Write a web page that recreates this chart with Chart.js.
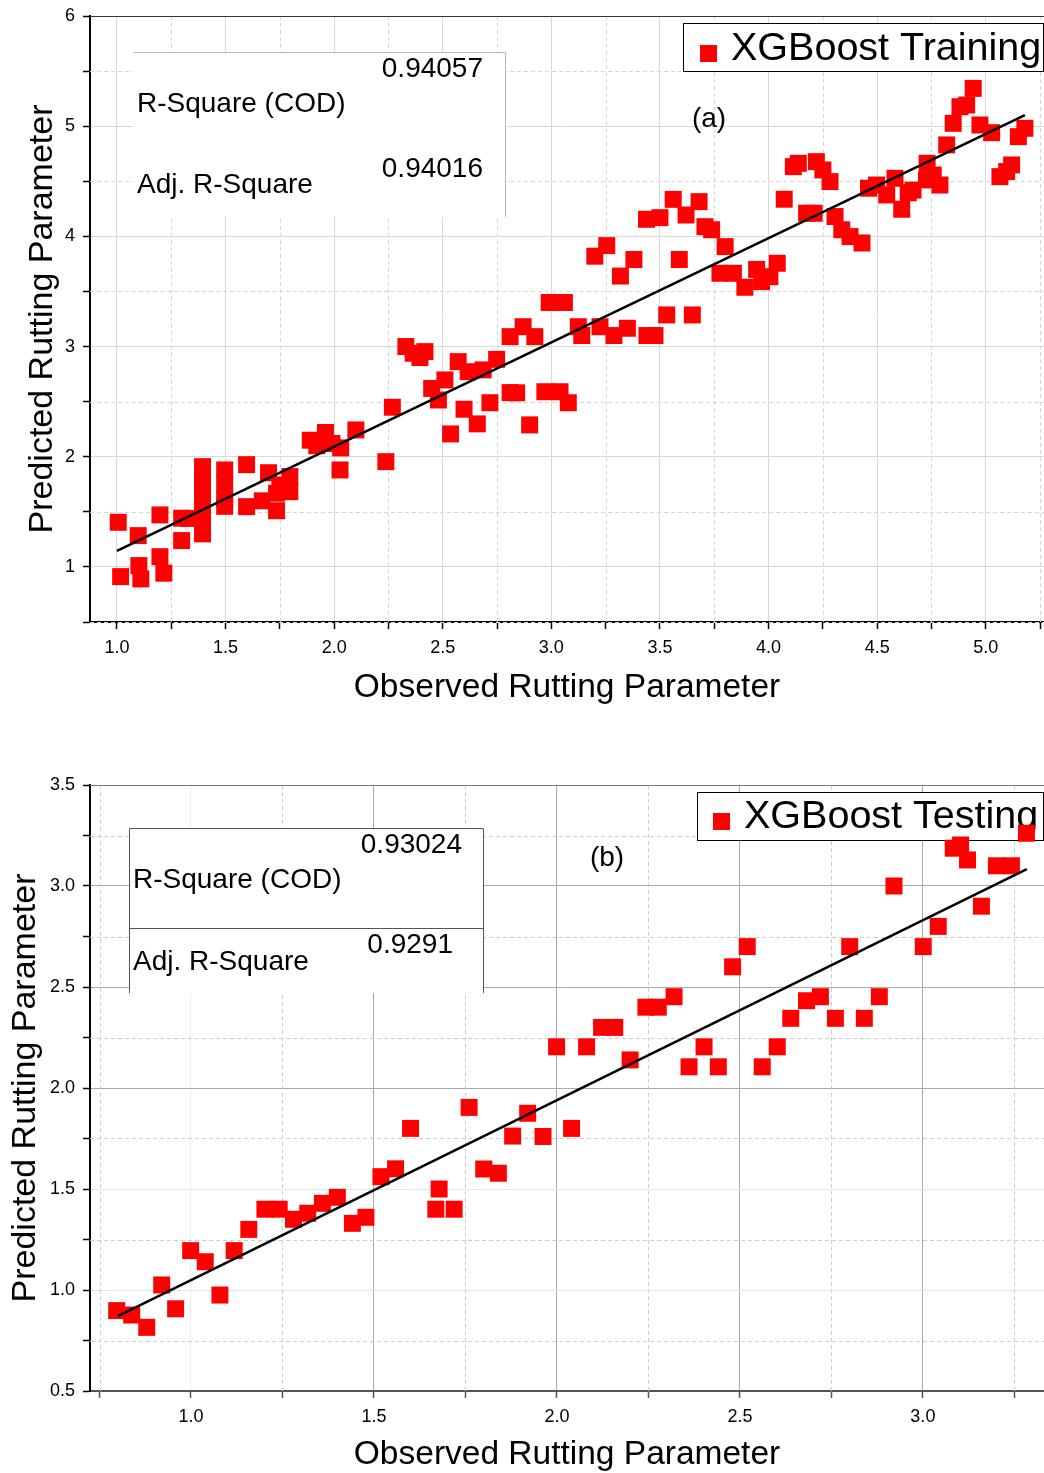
<!DOCTYPE html>
<html>
<head>
<meta charset="utf-8">
<title>XGBoost rutting parameter</title>
<script src="https://cdn.jsdelivr.net/npm/chart.js@4.4.0/dist/chart.umd.min.js"></script>
<style>
  html, body { margin: 0; padding: 0; background: #fff; overflow: hidden; }
  .panel { position: absolute; left: 0; width: 1044px; }
  #trainPanel { top: 0; height: 720px; }
  #testPanel { top: 730px; height: 760px; }
</style>
</head>
<body>
<div class="panel" id="trainPanel"><canvas id="trainChart"></canvas></div>
<div class="panel" id="testPanel"><canvas id="testChart"></canvas></div>
<script>
// ===================================
// DATA
// ===================================
const trainObserved = [
  1.006, 1.098, 1.017, 1.101, 1.11, 1.198, 1.198, 1.216, 1.298, 1.298, 1.33,
  1.394, 1.394, 1.394, 1.394, 1.394, 1.394, 1.394,
  1.496, 1.496, 1.496, 1.496,
  1.597, 1.597, 1.669, 1.698, 1.735, 1.735, 1.796, 1.796, 1.75,
  1.89, 1.92, 1.96, 1.99, 2.03, 2.027, 2.10, 2.238, 2.268,
  2.33, 2.364, 2.418, 2.395, 2.449, 2.48, 2.51, 2.536, 2.571, 2.598,
  2.617, 2.659, 2.686, 2.717, 2.748, 2.81, 2.84, 2.87, 2.81, 2.924,
  2.90, 2.97, 3.04, 3.078, 2.99, 3.06, 3.124, 3.14, 3.224, 3.288,
  3.35, 3.44, 3.477, 3.531, 3.649, 3.20, 3.255, 3.318, 3.38, 3.589,
  3.438, 3.50, 3.561, 3.62, 3.68, 3.707, 3.738, 3.80, 3.776, 3.838,
  3.891, 3.945, 3.968, 4.006, 4.04, 4.072, 4.114, 4.137, 4.175, 4.21,
  4.22, 4.25, 4.283, 4.306, 4.337, 4.375, 4.43, 4.46, 4.497, 4.544,
  4.582, 4.613, 4.643, 4.665, 4.73, 4.727, 4.758, 4.789, 4.82, 4.85,
  4.881, 4.912, 4.942, 4.973, 5.027, 5.065, 5.096, 5.119, 5.15, 5.18
];
const trainPredicted = [
  1.405, 1.284, 0.912, 1.012, 0.891, 1.472, 1.093, 0.943, 1.239, 1.442, 1.44,
  1.91, 1.80, 1.70, 1.60, 1.50, 1.40, 1.30,
  1.88, 1.75, 1.62, 1.55,
  1.928, 1.547, 1.60, 1.855, 1.51, 1.669, 1.82, 1.683, 1.744,
  2.15, 2.10, 2.22, 2.12, 2.08, 1.88, 2.243, 1.955, 2.449,
  3.0, 2.939, 2.954, 2.90, 2.62, 2.515, 2.697, 2.207, 2.863, 2.431,
  2.772, 2.298, 2.788, 2.49, 2.884, 2.582, 2.58, 3.18, 3.09, 3.09,
  2.289, 2.59, 2.59, 2.49, 3.40, 3.40, 3.18, 3.10, 3.18, 3.10,
  3.166, 3.10, 3.10, 3.287, 3.287, 3.82, 3.916, 3.64, 3.79, 3.79,
  4.155, 4.17, 4.336, 4.194, 4.315, 4.088, 4.06, 3.907, 3.665, 3.665,
  3.538, 3.70, 3.589, 3.634, 3.756, 4.337, 4.633, 4.663, 4.21, 4.21,
  4.678, 4.603, 4.497, 4.18, 4.06, 3.998, 3.94, 4.437, 4.466, 4.376,
  4.527, 4.246, 4.396, 4.42, 4.663, 4.512, 4.557, 4.466, 4.83, 5.026,
  5.177, 5.192, 5.343, 5.011, 4.941, 4.542, 4.588, 4.648, 4.905, 4.981
];
const trainFitX = [1.0, 5.18];
const trainFitY = [1.145, 5.10];
const trainStats = ["0.94057", "0.94016"];

const testObserved = [
  0.797, 0.838, 0.879, 0.92, 0.958, 0.999, 1.039, 1.079, 1.118, 1.158,
  1.202, 1.241, 1.28, 1.319, 1.359, 1.40, 1.441, 1.478, 1.519, 1.559,
  1.60, 1.678, 1.669, 1.719, 1.76, 1.80, 1.84, 1.879, 1.92, 1.962,
  2.04, 1.999, 2.081, 2.122, 2.158, 2.20, 2.243, 2.277, 2.32, 2.361,
  2.402, 2.441, 2.48, 2.52, 2.561, 2.602, 2.639, 2.682, 2.72, 2.761,
  2.80, 2.84, 2.881, 2.921, 3.001, 3.042, 3.083, 3.103, 3.122, 3.16,
  3.201, 3.242, 3.283
];
const testPredicted = [
  0.898, 0.876, 0.815, 1.025, 0.907, 1.195, 1.14, 0.975, 1.195, 1.30,
  1.40, 1.40, 1.35, 1.38, 1.429, 1.459, 1.33, 1.36, 1.561, 1.60,
  1.80, 1.50, 1.40, 1.40, 1.904, 1.599, 1.578, 1.762, 1.875, 1.76,
  1.80, 2.204, 2.204, 2.30, 2.30, 2.139, 2.40, 2.40, 2.452, 2.105,
  2.204, 2.105, 2.60, 2.70, 2.105, 2.204, 2.345, 2.432, 2.452, 2.345,
  2.70, 2.345, 2.452, 3.0, 2.70, 2.80, 3.187, 3.203, 3.129, 2.90,
  3.10, 3.10, 3.261
];
const testFitX = [0.80, 3.284];
const testFitY = [0.871, 3.084];
const testStats = ["0.93024", "0.9291"];

const statLabels = ["R-Square (COD)", "Adj. R-Square"];
const xTitle = "Observed Rutting Parameter";
const yTitle = "Predicted Rutting Parameter";

const FONT = "'Liberation Sans', Arial, Helvetica, sans-serif";
const POINT_RED = "#ff0000";

// ===================================
// HELPERS
// ===================================
function isMajor(value, step) {
  const r = value / step;
  return Math.abs(r - Math.round(r)) < 1e-6;
}

function stepTicks(from, to, step) {
  const out = [];
  for (let i = 0; from + i * step <= to + 1e-9; i++) {
    out.push({ value: Math.round((from + i * step) * 1000) / 1000 });
  }
  return out;
}

function crisp(v) {
  return Math.round(v) + 0.5;
}

// minor grid (dashed), plot frame, stats table, panel tag and legend
const panelDecor = {
  id: "panelDecor",
  beforeDatasetsDraw(chart, args, o) {
    const { ctx, chartArea: a, scales } = chart;
    ctx.save();

    ctx.lineWidth = 1;
    ctx.strokeStyle = o.minorColor;
    ctx.setLineDash([4, 3]);
    ["x", "y"].forEach((id) => {
      const s = scales[id];
      s.ticks.forEach((t) => {
        if (isMajor(t.value, o.major[id])) return;
        const p = crisp(s.getPixelForValue(t.value));
        ctx.beginPath();
        if (id === "x") {
          ctx.moveTo(p, a.top);
          ctx.lineTo(p, a.bottom);
        } else {
          ctx.moveTo(a.left, p);
          ctx.lineTo(a.right, p);
        }
        ctx.stroke();
      });
    });
    ctx.setLineDash([]);

    // top frame line
    ctx.strokeStyle = o.frameColor;
    ctx.beginPath();
    ctx.moveTo(a.left, crisp(a.top));
    ctx.lineTo(a.right, crisp(a.top));
    ctx.stroke();

    // stats table
    const st = o.stats;
    const bx = a.left + st.x;
    const by = a.top + st.y;
    ctx.fillStyle = "#fff";
    ctx.fillRect(bx, by, st.w, st.h);
    ctx.strokeStyle = st.color;
    ctx.lineWidth = 1;
    ctx.beginPath();
    ctx.moveTo(crisp(bx), crisp(by));
    ctx.lineTo(crisp(bx + st.w), crisp(by));
    ctx.moveTo(crisp(bx + st.w), crisp(by));
    ctx.lineTo(crisp(bx + st.w), by + st.h);
    if (st.left) {
      ctx.moveTo(crisp(bx), crisp(by));
      ctx.lineTo(crisp(bx), by + st.h);
    }
    if (st.divider) {
      ctx.moveTo(crisp(bx), crisp(by + st.divider));
      ctx.lineTo(crisp(bx + st.w), crisp(by + st.divider));
    }
    ctx.stroke();

    ctx.fillStyle = "#000";
    ctx.font = "28px " + FONT;
    ctx.textBaseline = "alphabetic";
    st.rows.forEach((row) => {
      ctx.textAlign = "left";
      ctx.fillText(row.label, a.left + st.labelX, a.top + row.labelY);
      ctx.textAlign = "right";
      ctx.fillText(row.value, a.left + row.valueX, a.top + row.valueY);
    });

    // panel tag
    ctx.textAlign = "center";
    ctx.font = "28px " + FONT;
    ctx.fillText(o.tag.text, a.left + o.tag.x, a.top + o.tag.y);

    // legend
    const lg = o.legend;
    ctx.fillStyle = "#fff";
    ctx.fillRect(a.left + lg.x, a.top + lg.y, lg.w, lg.h);
    ctx.strokeStyle = "#000";
    ctx.lineWidth = 1;
    ctx.strokeRect(crisp(a.left + lg.x), crisp(a.top + lg.y), lg.w, lg.h);
    const ds = chart.data.datasets[1];
    ctx.fillStyle = ds.backgroundColor;
    ctx.fillRect(a.left + lg.markX, a.top + lg.markY, 17, 17);
    ctx.fillStyle = "#000";
    ctx.textAlign = "left";
    ctx.font = "39.5px " + FONT;
    ctx.fillText(ds.label, a.left + lg.textX, a.top + lg.textY);

    ctx.restore();
  },
};

// ===================================
// CHART FACTORY
// ===================================
function makeChart(canvasId, cfg) {
  const ctx = document.getElementById(canvasId);
  return new Chart(ctx, {
    type: "scatter",
    data: {
      datasets: [
        {
          label: "Linear fit",
          type: "line",
          data: cfg.fitX.map((x, i) => ({ x, y: cfg.fitY[i] })),
          borderColor: "#000",
          borderWidth: 2.5,
          pointRadius: 0,
          fill: false,
          order: 0,
        },
        {
          label: cfg.name,
          data: cfg.observed.map((x, i) => ({ x, y: cfg.predicted[i] })),
          pointStyle: "rect",
          pointRadius: 12,
          pointHoverRadius: 12,
          backgroundColor: POINT_RED,
          borderWidth: 0,
          order: 1,
        },
      ],
    },
    options: {
      responsive: true,
      maintainAspectRatio: false,
      animation: false,
      events: [],
      layout: {
        autoPadding: false,
        padding: { top: cfg.padTop, left: 0, right: 0, bottom: 0 },
      },
      plugins: {
        legend: { display: false },
        tooltip: { enabled: false },
        panelDecor: cfg.decor,
      },
      scales: {
        x: {
          type: "linear",
          min: cfg.xMin,
          max: cfg.xMax,
          afterBuildTicks: (s) => { s.ticks = stepTicks(cfg.xFirst, cfg.xLast, cfg.xStep); },
          afterFit: (s) => {
            s.height = cfg.xAxisHeight;
            s.paddingLeft = 0;
            s.paddingRight = 0;
          },
          ticks: {
            autoSkip: false,
            maxRotation: 0,
            padding: 8,
            color: "#000",
            font: { family: FONT, size: 18 },
            callback: (v) => (isMajor(v, cfg.xMajor) ? v.toFixed(1) : ""),
          },
          grid: {
            color: (c) => (c.tick && isMajor(c.tick.value, cfg.xMajor) ? cfg.gridX(c.tick.value) : "rgba(0,0,0,0)"),
            lineWidth: 1,
            tickLength: 7,
            tickColor: cfg.xAxisColor,
            tickWidth: 1.5,
          },
          border: { color: cfg.xAxisColor, width: 2 },
          title: {
            display: true,
            text: xTitle,
            color: "#000",
            font: { family: FONT, size: 33.5, lineHeight: 1.2 },
            padding: { top: 0, bottom: cfg.xTitlePad },
          },
        },
        y: {
          type: "linear",
          min: cfg.yMin,
          max: cfg.yMax,
          afterBuildTicks: (s) => { s.ticks = stepTicks(cfg.yMin, cfg.yMax, cfg.yStep); },
          afterFit: (s) => {
            s.width = 90;
            s.paddingTop = 0;
            s.paddingBottom = 0;
          },
          ticks: {
            autoSkip: false,
            padding: 8,
            color: "#000",
            font: { family: FONT, size: 18 },
            callback: (v) => (isMajor(v, cfg.yMajor) ? cfg.yFormat(v) : ""),
          },
          grid: {
            color: (c) => (c.tick && isMajor(c.tick.value, cfg.yMajor) ? cfg.gridY(c.tick.value) : "rgba(0,0,0,0)"),
            lineWidth: 1,
            tickLength: 7,
            tickColor: "#000",
            tickWidth: 1.5,
          },
          border: { color: "#000", width: 2 },
          title: {
            display: true,
            text: yTitle,
            color: "#000",
            font: { family: FONT, size: 34, lineHeight: 1.2 },
            padding: { top: cfg.yTitlePad, bottom: 0 },
          },
        },
      },
    },
    plugins: [panelDecor],
  });
}

// ===================================
// PANELS
// ===================================
makeChart("trainChart", {
  name: "XGBoost Training",
  observed: trainObserved,
  predicted: trainPredicted,
  fitX: trainFitX,
  fitY: trainFitY,
  padTop: 16,
  xMin: 0.876, xMax: 5.268, xFirst: 1.0, xLast: 5.25, xStep: 0.25, xMajor: 0.5,
  yMin: 0.5, yMax: 6, yStep: 0.5, yMajor: 1,
  yFormat: (v) => String(v),
  xAxisHeight: 98,
  xTitlePad: 12,
  yTitlePad: 22,
  xAxisColor: "#000",
  gridX: () => "#d9d9d9",
  gridY: () => "#d9d9d9",
  decor: {
    major: { x: 0.5, y: 1 },
    minorColor: "#d6d6d6",
    frameColor: "#333",
    stats: {
      x: 43, y: 36, w: 372, h: 165, color: "#b8b8b8", left: false, divider: null,
      labelX: 47,
      rows: [
        { label: statLabels[0], labelY: 96, value: trainStats[0], valueX: 393, valueY: 61 },
        { label: statLabels[1], labelY: 177, value: trainStats[1], valueX: 393, valueY: 161 },
      ],
    },
    tag: { text: "(a)", x: 619, y: 111 },
    legend: { x: 593, y: 7, w: 360, h: 48, markX: 610, markY: 29, textX: 641, textY: 44 },
  },
});

makeChart("testChart", {
  name: "XGBoost Testing",
  observed: testObserved,
  predicted: testPredicted,
  fitX: testFitX,
  fitY: testFitY,
  padTop: 55,
  xMin: 0.724, xMax: 3.331, xFirst: 0.75, xLast: 3.25, xStep: 0.25, xMajor: 0.5,
  yMin: 0.5, yMax: 3.5, yStep: 0.25, yMajor: 0.5,
  yFormat: (v) => v.toFixed(1),
  xAxisHeight: 99,
  xTitlePad: 15,
  yTitlePad: 5,
  xAxisColor: "#555",
  gridX: (v) => (v === 1 ? "#ececec" : "#a9a9a9"),
  gridY: (v) => (v >= 2 ? "#a9a9a9" : "#e6e6e6"),
  decor: {
    major: { x: 0.5, y: 0.5 },
    minorColor: "#cdcdcd",
    frameColor: "#777",
    stats: {
      x: 39, y: 43, w: 354, h: 165, color: "#555", left: true, divider: 100,
      labelX: 43,
      rows: [
        { label: statLabels[0], labelY: 103, value: testStats[0], valueX: 372, valueY: 68 },
        { label: statLabels[1], labelY: 185, value: testStats[1], valueX: 363, valueY: 168 },
      ],
    },
    tag: { text: "(b)", x: 517, y: 81 },
    legend: { x: 607, y: 7, w: 346, h: 48, markX: 623, markY: 28, textX: 654, textY: 43 },
  },
});
</script>
</body>
</html>
